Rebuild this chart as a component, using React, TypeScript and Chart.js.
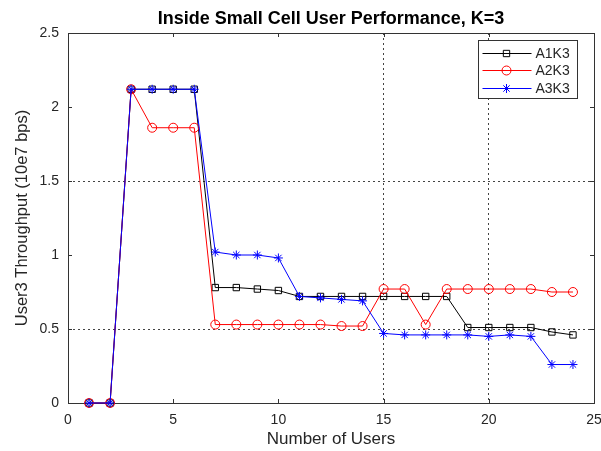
import React, { useEffect, useRef } from 'react';
import { Chart, registerables } from 'chart.js';

Chart.register(...registerables);

const chartTitle = 'Inside Small Cell User Performance, K=3';
const xTitle = 'Number of Users';
const yTitle = 'User3 Throughput (10e7 bps)';

const users = [1, 2, 3, 4, 5, 6, 7, 8, 9, 10, 11, 12, 13, 14, 15, 16, 17, 18, 19, 20, 21, 22, 23, 24];
const a1k3 = [0, 0, 2.12, 2.12, 2.12, 2.12, 0.78, 0.78, 0.77, 0.76, 0.72, 0.72, 0.72, 0.72, 0.72, 0.72, 0.72, 0.72, 0.51, 0.51, 0.51, 0.51, 0.48, 0.46];
const a2k3 = [0, 0, 2.12, 1.86, 1.86, 1.86, 0.53, 0.53, 0.53, 0.53, 0.53, 0.53, 0.52, 0.52, 0.77, 0.77, 0.53, 0.77, 0.77, 0.77, 0.77, 0.77, 0.75, 0.75];
const a3k3 = [0, 0, 2.12, 2.12, 2.12, 2.12, 1.02, 1.0, 1.0, 0.98, 0.72, 0.71, 0.7, 0.69, 0.47, 0.46, 0.46, 0.46, 0.46, 0.45, 0.46, 0.45, 0.26, 0.26];

const seriesNames = ['A1K3', 'A2K3', 'A3K3'];
const seriesColors = ['#000000', '#ff0000', '#0000ff'];
const seriesMarkers = ['rect', 'circle', 'star'];

const xGridValues = [15, 20];
const yGridValues = [0.5, 1.5];

const FONT = 'Arial, "Liberation Sans", sans-serif';
const TEXT = '#262626';

function drawMarker(ctx: CanvasRenderingContext2D, style: string, x: number, y: number, r: number) {
  ctx.beginPath();
  if (style === 'rect') {
    const s = r * Math.SQRT1_2;
    ctx.rect(x - s, y - s, 2 * s, 2 * s);
  } else if (style === 'circle') {
    ctx.arc(x, y, r, 0, Math.PI * 2);
  } else {
    const d = r * Math.SQRT1_2;
    ctx.moveTo(x - r, y); ctx.lineTo(x + r, y);
    ctx.moveTo(x, y - r); ctx.lineTo(x, y + r);
    ctx.moveTo(x - d, y - d); ctx.lineTo(x + d, y + d);
    ctx.moveTo(x - d, y + d); ctx.lineTo(x + d, y - d);
  }
  ctx.stroke();
}

const framePlugin = {
  id: 'frame',
  beforeDatasetsDraw(chart: any) {
    const { ctx, chartArea: a, scales } = chart;
    ctx.save();
    ctx.strokeStyle = '#333';
    ctx.lineWidth = 1;
    ctx.setLineDash([]);
    ctx.strokeRect(Math.round(a.left) + 0.5, Math.round(a.top) + 0.5, Math.round(a.right - a.left), Math.round(a.bottom - a.top));
    const tl = 4;
    ctx.beginPath();
    scales.x.ticks.forEach((t: any) => {
      const px = Math.round(scales.x.getPixelForValue(t.value)) + 0.5;
      ctx.moveTo(px, a.bottom); ctx.lineTo(px, a.bottom - tl);
      ctx.moveTo(px, a.top); ctx.lineTo(px, a.top + tl);
    });
    scales.y.ticks.forEach((t: any) => {
      const py = Math.round(scales.y.getPixelForValue(t.value)) + 0.5;
      ctx.moveTo(a.left, py); ctx.lineTo(a.left + tl, py);
      ctx.moveTo(a.right, py); ctx.lineTo(a.right - tl, py);
    });
    ctx.stroke();
    ctx.restore();
  },
};

const legendPlugin = {
  id: 'customLegend',
  afterDraw(chart: any) {
    const { ctx } = chart;
    const left = 478.5, top = 40.5, w = 99, h = 58;
    ctx.save();
    ctx.fillStyle = '#ffffff';
    ctx.fillRect(left, top, w, h);
    ctx.strokeStyle = '#333';
    ctx.lineWidth = 1;
    ctx.strokeRect(left, top, w, h);
    seriesNames.forEach((name, i) => {
      const y = Math.round(top + 12 + i * 17.5) + 0.5;
      ctx.strokeStyle = seriesColors[i];
      ctx.lineWidth = 1;
      ctx.beginPath();
      ctx.moveTo(left + 4, y);
      ctx.lineTo(left + 53, y);
      ctx.stroke();
      drawMarker(ctx, seriesMarkers[i], left + 28, y, 4.5);
      ctx.fillStyle = TEXT;
      ctx.font = '14px ' + FONT;
      ctx.textBaseline = 'middle';
      ctx.textAlign = 'left';
      ctx.fillText(name, left + 57, y + 1);
    });
    ctx.restore();
  },
};

export default function App() {
  const ref = useRef<HTMLCanvasElement | null>(null);

  useEffect(() => {
    if (!ref.current) return;
    const series = [a1k3, a2k3, a3k3];
    const chart = new Chart(ref.current, {
      type: 'line',
      data: {
        datasets: series.map((vals, i) => ({
          label: seriesNames[i],
          data: users.map((u, j) => ({ x: u, y: vals[j] })),
          borderColor: seriesColors[i],
          backgroundColor: 'transparent',
          pointBorderColor: seriesColors[i],
          pointBackgroundColor: 'transparent',
          pointStyle: seriesMarkers[i] as any,
          pointRadius: 4.5,
          pointBorderWidth: 1,
          borderWidth: 1,
          tension: 0,
          fill: false,
          clip: false as any,
          order: 3 - i,
        })),
      },
      options: {
        responsive: false,
        animation: false,
        layout: { padding: { left: 0, right: 7, top: 0, bottom: 0 } },
        plugins: {
          legend: { display: false },
          tooltip: { enabled: false },
          title: {
            display: true,
            text: chartTitle,
            fullSize: false,
            color: '#000',
            font: { family: FONT, size: 18, weight: 'bold' },
            padding: { top: 8, bottom: 3.4 },
          },
        },
        scales: {
          x: {
            type: 'linear',
            min: 0,
            max: 25,
            ticks: { stepSize: 5, color: TEXT, font: { family: FONT, size: 14 }, padding: 9, maxRotation: 0, callback: (v: any) => String(v) },
            grid: {
              drawTicks: false,
              color: (c: any) => (c.tick && xGridValues.includes(c.tick.value) ? '#444' : 'transparent'),
              lineWidth: 1,
            },
            border: { display: false, dash: [2, 3] },
            title: { display: true, text: xTitle, color: TEXT, font: { family: FONT, size: 17 }, padding: { top: 0, bottom: 1 } },
            afterFit: (s: any) => { s.height = 48; s.paddingLeft = 0; s.paddingRight = 0; },
          },
          y: {
            type: 'linear',
            min: 0,
            max: 2.5,
            ticks: { stepSize: 0.5, color: TEXT, font: { family: FONT, size: 14 }, padding: 9, callback: (v: any) => String(v) },
            grid: {
              drawTicks: false,
              color: (c: any) => (c.tick && yGridValues.includes(c.tick.value) ? '#444' : 'transparent'),
              lineWidth: 1,
            },
            border: { display: false, dash: [2, 3] },
            title: { display: true, text: yTitle, color: TEXT, font: { family: FONT, size: 16.5 }, padding: { top: 13, bottom: 0 } },
            afterFit: (s: any) => { s.width = 68; s.paddingTop = 0; s.paddingBottom = 0; },
          },
        },
      } as any,
      plugins: [framePlugin, legendPlugin],
    });
    return () => chart.destroy();
  }, []);

  return (
    <div style={{ position: 'fixed', left: 0, top: 0, width: 601, height: 451, background: '#fff' }}>
      <canvas ref={ref} width={601} height={451} style={{ display: 'block' }} />
    </div>
  );
}
